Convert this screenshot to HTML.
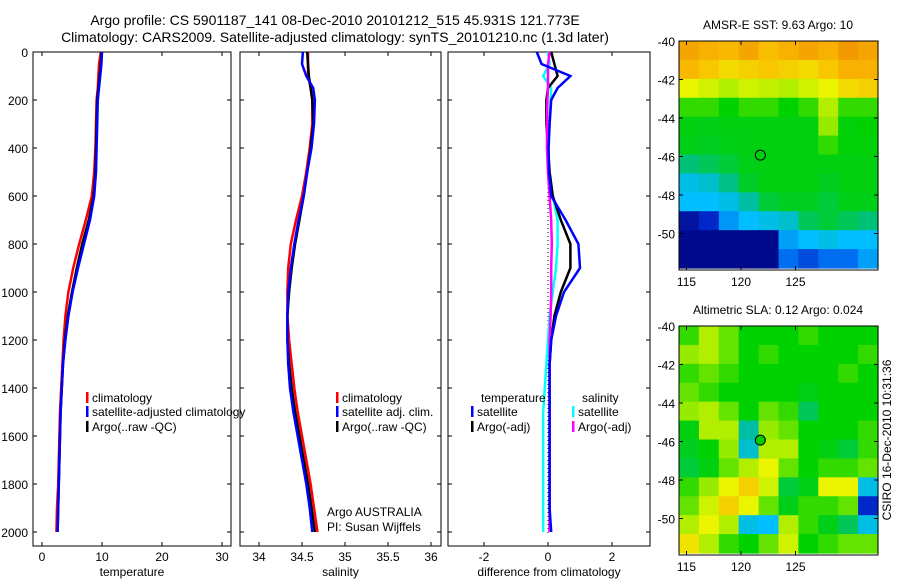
<!DOCTYPE html>
<html><head><meta charset="utf-8">
<style>
html,body{margin:0;padding:0;background:#fff;}
svg text{font-family:"Liberation Sans",sans-serif;fill:#000;}
</style></head>
<body>
<svg id="fig" width="900" height="580" viewBox="0 0 900 580" xmlns="http://www.w3.org/2000/svg">
<text x="335" y="25" font-size="14" text-anchor="middle">Argo profile: CS 5901187_141 08-Dec-2010 20101212_515 45.931S 121.773E</text>
<text x="335" y="42" font-size="14" text-anchor="middle">Climatology: CARS2009. Satellite-adjusted climatology: synTS_20101210.nc (1.3d later)</text>
<g id="plots"></g>
</svg>
<script>
const depths=[0,50,100,150,200,300,400,500,600,700,800,900,1000,1100,1200,1300,1400,1500,1600,1700,1800,1900,2000];
const tempClim=[9.8,9.5,9.4,9.3,9.1,9.0,8.9,8.7,8.3,7.3,6.2,5.2,4.4,3.9,3.6,3.4,3.2,3.0,2.9,2.8,2.7,2.5,2.4];
const tempSat=[10.0,9.9,9.7,9.5,9.3,9.2,9.1,9.0,8.7,8.0,7.0,6.0,5.1,4.4,3.9,3.5,3.3,3.1,3.0,2.9,2.8,2.7,2.6];
const tempArgo=[9.9,9.8,9.6,9.4,9.2,9.1,9.0,8.9,8.6,7.8,6.7,5.8,5.0,4.3,3.8,3.5,3.3,3.1,3.0,2.9,2.8,2.7,2.6];
const salClim=[34.57,34.57,34.57,34.6,34.62,34.62,34.59,34.55,34.5,34.43,34.37,34.34,34.33,34.33,34.35,34.38,34.41,34.45,34.5,34.55,34.6,34.64,34.68];
const salSat=[34.51,34.5,34.55,34.63,34.65,34.64,34.61,34.56,34.52,34.46,34.41,34.37,34.34,34.33,34.33,34.34,34.36,34.4,34.45,34.5,34.55,34.59,34.62];
const salArgo=[34.56,34.57,34.58,34.6,34.62,34.63,34.6,34.56,34.52,34.47,34.42,34.38,34.35,34.33,34.33,34.35,34.38,34.42,34.47,34.52,34.57,34.61,34.65];
const dTSat=[-0.35,-0.2,0.7,0.3,0.1,0.05,0.02,0.03,0.1,0.55,0.95,1.0,0.5,0.25,0.1,0.05,0.05,0.05,0.05,0.05,0.05,0.05,0.1];
const dTArgo=[0.1,0.2,0.3,0.0,-0.05,-0.05,0.0,0.05,0.15,0.4,0.7,0.7,0.4,0.2,0.1,0.05,0.05,0.05,0.05,0.05,0.05,0.05,0.05];
const dSSat=[0.0,0.05,-0.15,0.1,0.08,0.05,0.0,0.05,0.15,0.3,0.3,0.25,0.15,0.05,0.0,-0.05,-0.1,-0.15,-0.15,-0.15,-0.15,-0.15,-0.15];
const dSArgo=[0.05,0.0,0.0,0.0,-0.02,-0.03,-0.03,0.0,0.05,0.1,0.12,0.1,0.1,0.08,0.05,0.05,0.05,0.05,0.05,0.05,0.05,0.05,0.05];
const depthTicks=[0,200,400,600,800,1000,1200,1400,1600,1800,2000];
const tempTicks=[0,10,20,30];
const salTicks=[34,34.5,35,35.5,36];
const diffTicks=[-2,0,2];
const mapLatTicks=[-40,-42,-44,-46,-48,-50];
const mapLonTicks=[115,120,125];
const sstGrid=[
[0.8,0.78,0.77,0.8,0.76,0.78,0.8,0.78,0.82,0.8],
[0.77,0.75,0.73,0.74,0.75,0.74,0.73,0.75,0.78,0.78],
[0.7,0.68,0.66,0.68,0.67,0.66,0.68,0.7,0.73,0.74],
[0.6,0.6,0.58,0.6,0.6,0.58,0.6,0.66,0.6,0.6],
[0.56,0.55,0.56,0.56,0.56,0.56,0.56,0.64,0.57,0.58],
[0.55,0.54,0.55,0.56,0.56,0.56,0.56,0.6,0.57,0.57],
[0.48,0.5,0.52,0.55,0.56,0.56,0.56,0.56,0.56,0.56],
[0.4,0.42,0.47,0.53,0.56,0.56,0.56,0.54,0.56,0.56],
[0.38,0.38,0.4,0.45,0.52,0.54,0.54,0.52,0.55,0.55],
[0.1,0.2,0.34,0.38,0.4,0.42,0.5,0.52,0.5,0.48],
[0.05,0.05,0.05,0.05,0.05,0.35,0.38,0.4,0.38,0.38],
[0.05,0.05,0.05,0.05,0.05,0.3,0.25,0.3,0.3,0.35]];
const slaGrid=[
[0.6,0.66,0.62,0.58,0.58,0.58,0.6,0.58,0.58,0.58],
[0.64,0.66,0.62,0.58,0.6,0.58,0.58,0.58,0.58,0.6],
[0.6,0.62,0.6,0.58,0.58,0.58,0.58,0.58,0.6,0.58],
[0.62,0.6,0.58,0.58,0.58,0.58,0.55,0.58,0.58,0.58],
[0.64,0.66,0.62,0.58,0.62,0.6,0.5,0.58,0.58,0.58],
[0.56,0.66,0.66,0.45,0.64,0.62,0.58,0.58,0.58,0.6],
[0.54,0.58,0.64,0.42,0.66,0.66,0.58,0.56,0.52,0.6],
[0.52,0.56,0.62,0.66,0.7,0.62,0.58,0.6,0.6,0.62],
[0.6,0.64,0.7,0.74,0.68,0.52,0.55,0.7,0.7,0.4],
[0.62,0.68,0.74,0.7,0.62,0.55,0.6,0.6,0.62,0.2],
[0.66,0.7,0.66,0.4,0.38,0.66,0.6,0.55,0.5,0.4],
[0.72,0.66,0.6,0.58,0.62,0.68,0.58,0.6,0.62,0.62]];

const NS='http://www.w3.org/2000/svg';
const root=document.getElementById('plots');
function mk(tag,attrs,parent,text){const e=document.createElementNS(NS,tag);for(const k in attrs)e.setAttribute(k,attrs[k]);if(text!==undefined)e.textContent=text;(parent||root).appendChild(e);return e;}
const yTop=52,yScale=0.24;
function yD(d){return yTop+d*yScale;}
const frameBottom=546;

function panel(name,x0,x1,xFn,ticks,fmt,xlabel,showY){
  const g=mk('g',{});
  
  
  const r=mk('rect',{x:x0,y:yTop,width:x1-x0,height:frameBottom-yTop,fill:'none',stroke:'#000','stroke-width':1},g);
  
  
  depthTicks.forEach(d=>{
    mk('line',{x1:x0,x2:x0+4,y1:yD(d),y2:yD(d),stroke:'#000'},g);
    mk('line',{x1:x1-4,x2:x1,y1:yD(d),y2:yD(d),stroke:'#000'},g);
    if(showY){const t=mk('text',{x:x0-5,y:yD(d)+5,'font-size':12,'text-anchor':'end'},g,String(d));
      
      }
  });
  ticks.forEach(v=>{const x=xFn(v);
    mk('line',{x1:x,x2:x,y1:yTop,y2:yTop+4,stroke:'#000'},g);
    mk('line',{x1:x,x2:x,y1:frameBottom-4,y2:frameBottom,stroke:'#000'},g);
    const t=mk('text',{x:x,y:561,'font-size':12,'text-anchor':'middle'},g,fmt(v));
    
    
  });
  const xl=mk('text',{x:(x0+x1)/2,y:576,'font-size':12,'text-anchor':'middle'},g,xlabel);
  
  
  return g;
}
function series(g,name,vals,xFn,color){
  const pts=vals.map((v,i)=>xFn(v).toFixed(1)+','+yD(depths[i]).toFixed(1)).join(' ');
  const p=mk('polyline',{points:pts,fill:'none',stroke:color,'stroke-width':2.5},g);
  
  
}
function legend(g,x,y,color,label,name){
  mk('rect',{x:x,y:y-10,width:2.5,height:11,fill:color},g);
  const t=mk('text',{x:x+6,y:y,'font-size':12},g,label);
  
  
}

const xT=v=>42+v*6;
const gT=panel('temperature-panel',33,231,xT,tempTicks,v=>String(v),'temperature',true);
series(gT,'temperature-climatology-line',tempClim,xT,'#f00');
series(gT,'temperature-argo-line',tempArgo,xT,'#000');
series(gT,'temperature-satellite-line',tempSat,xT,'#00f');
legend(gT,86,402,'#f00','climatology','legend-climatology');
legend(gT,86,416,'#00f','satellite-adjusted climatology','legend-satellite-adjusted');
legend(gT,86,431,'#000','Argo(..raw -QC)','legend-argo');

const xS=v=>259+(v-34)*86;
const gS=panel('salinity-panel',240,441,xS,salTicks,v=>String(v),'salinity',false);
series(gS,'salinity-climatology-line',salClim,xS,'#f00');
series(gS,'salinity-argo-line',salArgo,xS,'#000');
series(gS,'salinity-satellite-line',salSat,xS,'#00f');
legend(gS,336,402,'#f00','climatology','legend-climatology');
legend(gS,336,416,'#00f','satellite adj. clim.','legend-satellite-adj');
legend(gS,336,431,'#000','Argo(..raw -QC)','legend-argo');
let t1=mk('text',{x:327,y:516,'font-size':12},gS,'Argo AUSTRALIA');


let t2=mk('text',{x:327,y:531,'font-size':12},gS,'PI: Susan Wijffels');



const xD=v=>548+v*32;
const gD=panel('difference-panel',448,650,xD,diffTicks,v=>String(v),'difference from climatology',false);
mk('line',{x1:xD(0),x2:xD(0),y1:yTop,y2:frameBottom-12,stroke:'#000','stroke-dasharray':'1,3'},gD);
series(gD,'salinity-satellite-diff-line',dSSat,xD,'#0ff');
series(gD,'temperature-argo-diff-line',dTArgo,xD,'#000');
series(gD,'salinity-argo-diff-line',dSArgo,xD,'#f0f');
series(gD,'temperature-satellite-diff-line',dTSat,xD,'#00f');
let lt=mk('text',{x:481,y:402,'font-size':12},gD,'temperature');


let ls=mk('text',{x:582,y:402,'font-size':12},gD,'salinity');


legend(gD,471,416,'#00f','satellite','legend-temp-satellite');
legend(gD,471,431,'#000','Argo(-adj)','legend-temp-argo');
legend(gD,572,416,'#0ff','satellite','legend-sal-satellite');
legend(gD,572,431,'#f0f','Argo(-adj)','legend-sal-argo');

// colormap stops (value, r,g,b)
const cmapStops=[[0,0,0,120],[0.2,0,40,200],[0.3,0,110,240],[0.38,0,190,255],[0.46,0,190,150],[0.53,0,205,40],[0.58,0,210,0],[0.64,150,235,0],[0.7,235,245,0],[0.76,250,190,0],[0.84,240,140,0],[0.95,210,80,0]];
function cmap(v){
  let a=cmapStops[0],b=cmapStops[cmapStops.length-1];
  if(v<=a[0])return 'rgb('+a[1]+','+a[2]+','+a[3]+')';
  if(v>=b[0])return 'rgb('+b[1]+','+b[2]+','+b[3]+')';
  for(let i=0;i<cmapStops.length-1;i++){if(v>=cmapStops[i][0]&&v<=cmapStops[i+1][0]){a=cmapStops[i];b=cmapStops[i+1];break;}}
  const f=(v-a[0])/(b[0]-a[0]);
  const c=k=>Math.round(a[k]+(b[k]-a[k])*f);
  return 'rgb('+c(1)+','+c(2)+','+c(3)+')';
}
function mapPanel(name,grid,y0,y1,title,filledMarker){
  const x0=679,x1=878;
  const g=mk('g',{});
  
  
  const lonX=lon=>741+(lon-120)*10.9;
  const latY=lat=>y0+(-40-lat)*19.25;
  const rows=grid.length,cols=grid[0].length;
  const cw=(x1-x0)/cols,ch=(y1-2-y0)/rows;
  grid.forEach((row,i)=>row.forEach((v,j)=>{
    const c=mk('rect',{x:(x0+j*cw).toFixed(2),y:(y0+i*ch).toFixed(2),width:(cw+0.6).toFixed(2),height:(ch+0.6).toFixed(2),fill:cmap(v)},g);
    
    
  }));
  mk('rect',{x:x0,y:y0,width:x1-x0,height:y1-y0,fill:'none',stroke:'#000'},g);
  mapLatTicks.forEach(lat=>{const y=latY(lat);
    mk('line',{x1:x0,x2:x0+4,y1:y,y2:y,stroke:'#000'},g);
    mk('line',{x1:x1-4,x2:x1,y1:y,y2:y,stroke:'#000'},g);
    const t=mk('text',{x:x0-4,y:y+5,'font-size':12,'text-anchor':'end'},g,String(lat));
    
    
  });
  mapLonTicks.forEach(lon=>{const x=lonX(lon);
    mk('line',{x1:x,x2:x,y1:y0,y2:y0+4,stroke:'#000'},g);
    mk('line',{x1:x,x2:x,y1:y1-4,y2:y1,stroke:'#000'},g);
    const t=mk('text',{x:x,y:y1+16,'font-size':12,'text-anchor':'middle'},g,String(lon));
    
    
  });
  const tt=mk('text',{x:778,y:y0-12,'font-size':12,'text-anchor':'middle'},g,title);
  
  
  const m=mk('circle',{cx:lonX(121.773),cy:latY(-45.931),r:5,fill:filledMarker?'#0c0':'none',stroke:'#000','stroke-width':1},g);
  
  
}
mapPanel('sst-map',sstGrid,41,270,'AMSR-E SST: 9.63 Argo: 10',false);
mapPanel('sla-map',slaGrid,326,555,'Altimetric SLA: 0.12 Argo: 0.024',true);
const ts=mk('text',{x:0,y:0,'font-size':12,'text-anchor':'middle',transform:'translate(891,440) rotate(-90)'});


ts.textContent='CSIRO 16-Dec-2010 10:31:36';
</script>
</body></html>
